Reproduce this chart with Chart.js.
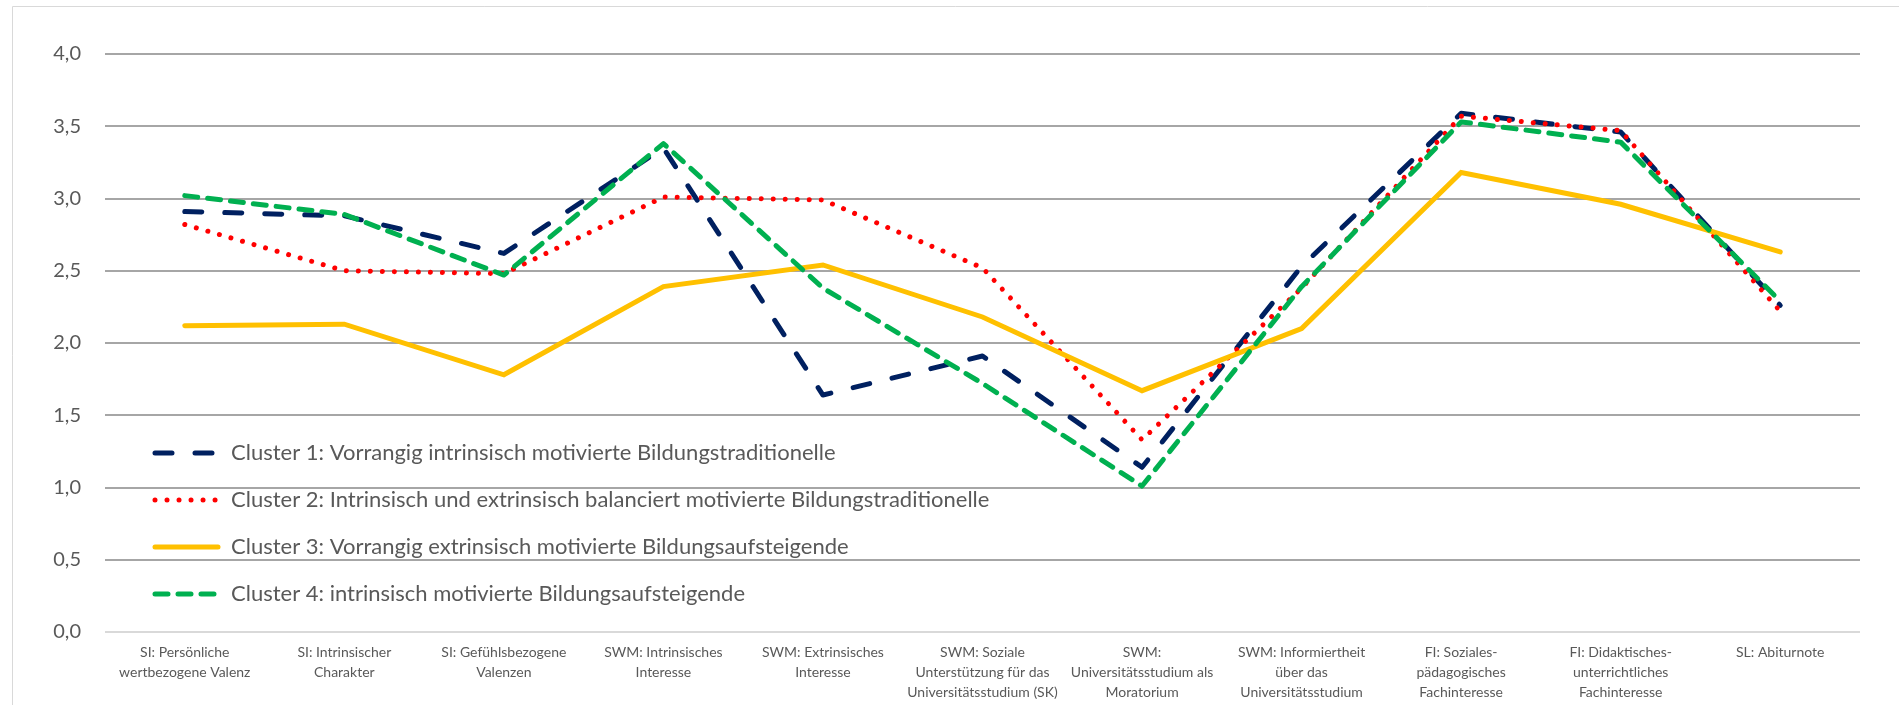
<!DOCTYPE html>
<html lang="de">
<head>
    <meta charset="UTF-8">
    <title>Cluster-Profile</title>
    <script src="https://cdn.jsdelivr.net/npm/chart.js"></script>
    <style>
        html, body { margin: 0; padding: 0; background: #ffffff; }
        #wrap { width: 1899px; height: 705px; }
    </style>
</head>
<body>
    <div id="wrap"><canvas id="myChart" width="1899" height="705"></canvas></div>

    <script>
        // Categories (x axis), already split into lines as in the original
        const categories = [
            ['SI: Persönliche', 'wertbezogene Valenz'],
            ['SI: Intrinsischer', 'Charakter'],
            ['SI: Gefühlsbezogene', 'Valenzen'],
            ['SWM: Intrinsisches', 'Interesse'],
            ['SWM: Extrinsisches', 'Interesse'],
            ['SWM: Soziale', 'Unterstützung für das', 'Universitätsstudium (SK)'],
            ['SWM:', 'Universitätsstudium als', 'Moratorium'],
            ['SWM: Informiertheit', 'über das', 'Universitätsstudium'],
            ['FI: Soziales-', 'pädagogisches', 'Fachinteresse'],
            ['FI: Didaktisches-', 'unterrichtliches', 'Fachinteresse'],
            ['SL: Abiturnote']
        ];

        // Series names
        const seriesNames = [
            'Cluster 1: Vorrangig intrinsisch motivierte Bildungstraditionelle',
            'Cluster 2: Intrinsisch und extrinsisch balanciert motivierte Bildungstraditionelle',
            'Cluster 3: Vorrangig extrinsisch motivierte Bildungsaufsteigende',
            'Cluster 4: intrinsisch motivierte Bildungsaufsteigende'
        ];

        // Values
        const cluster1 = [2.91, 2.88, 2.62, 3.35, 1.64, 1.91, 1.14, 2.53, 3.59, 3.46, 2.26];
        const cluster2 = [2.82, 2.50, 2.48, 3.01, 2.99, 2.52, 1.33, 2.38, 3.57, 3.47, 2.22];
        const cluster3 = [2.12, 2.13, 1.78, 2.39, 2.54, 2.18, 1.67, 2.10, 3.18, 2.96, 2.63];
        const cluster4 = [3.02, 2.89, 2.47, 3.38, 2.38, 1.72, 1.01, 2.39, 3.53, 3.39, 2.29];

        // y axis
        const yMin = 0;
        const yMax = 4;
        const yStep = 0.5;

        const FONT = 'Lato, "Open Sans", sans-serif';
        const TEXT_COLOR = '#595959';

        // draws the light frame around the chart area (like the Excel chart border)
        const framePlugin = {
            id: 'frame',
            beforeDraw(chart) {
                const ctx = chart.ctx;
                ctx.save();
                ctx.strokeStyle = '#d9d9d9';
                ctx.lineWidth = 1;
                ctx.beginPath();
                ctx.moveTo(12.5, chart.height);
                ctx.lineTo(12.5, 6.5);
                ctx.lineTo(chart.width, 6.5);
                ctx.stroke();
                ctx.restore();
            }
        };

        // legend sits inside the plot area, bottom left
        const innerLegend = {
            id: 'innerLegend',
            afterDatasetsDraw(chart) {
                const ctx = chart.ctx;
                const x0 = 155, x1 = 218, tx = 231;
                let y = 453;
                ctx.save();
                chart.data.datasets.forEach(ds => {
                    ctx.strokeStyle = ds.borderColor;
                    ctx.lineWidth = ds.borderWidth;
                    ctx.lineCap = ds.borderCapStyle || 'butt';
                    ctx.setLineDash(ds.borderDash || []);
                    ctx.beginPath();
                    ctx.moveTo(x0, y);
                    ctx.lineTo(x1, y);
                    ctx.stroke();
                    ctx.setLineDash([]);
                    ctx.fillStyle = TEXT_COLOR;
                    ctx.font = '22px ' + FONT;
                    ctx.textBaseline = 'middle';
                    ctx.textAlign = 'left';
                    ctx.fillText(ds.label, tx, y);
                    y += 47;
                });
                ctx.restore();
            }
        };

        const ctx = document.getElementById('myChart').getContext('2d');
        new Chart(ctx, {
            type: 'line',
            data: {
                labels: categories,
                datasets: [
                    {
                        label: seriesNames[0],
                        data: cluster1,
                        borderColor: '#002060',
                        borderWidth: 5,
                        borderDash: [17, 23],
                        borderCapStyle: 'round',
                        borderJoinStyle: 'round',
                        pointRadius: 0,
                        order: 4
                    },
                    {
                        label: seriesNames[1],
                        data: cluster2,
                        borderColor: '#ff0000',
                        borderWidth: 5,
                        borderDash: [0.01, 12],
                        borderCapStyle: 'round',
                        borderJoinStyle: 'round',
                        pointRadius: 0,
                        order: 3
                    },
                    {
                        label: seriesNames[2],
                        data: cluster3,
                        borderColor: '#ffc000',
                        borderWidth: 5,
                        borderCapStyle: 'round',
                        borderJoinStyle: 'miter',
                        pointRadius: 0,
                        order: 2
                    },
                    {
                        label: seriesNames[3],
                        data: cluster4,
                        borderColor: '#00b050',
                        borderWidth: 5,
                        borderDash: [13, 10],
                        borderCapStyle: 'round',
                        borderJoinStyle: 'round',
                        pointRadius: 0,
                        order: 1
                    }
                ]
            },
            options: {
                responsive: false,
                animation: false,
                layout: {
                    padding: { left: 0, right: 39, top: 54, bottom: 0 }
                },
                scales: {
                    x: {
                        offset: true,
                        grid: { display: false, drawTicks: false },
                        border: { display: false },
                        ticks: {
                            color: TEXT_COLOR,
                            font: { family: FONT, size: 14, lineHeight: 1.4 },
                            padding: 11,
                            maxRotation: 0,
                            minRotation: 0,
                            autoSkip: false
                        },
                        afterFit(scale) { scale.height = 73; }
                    },
                    y: {
                        min: yMin,
                        max: yMax,
                        grid: {
                            color: c => c.tick && c.tick.value === 0 ? '#d9d9d9' : '#a6a6a6',
                            lineWidth: 2,
                            drawTicks: false
                        },
                        border: { display: false },
                        ticks: {
                            stepSize: yStep,
                            color: TEXT_COLOR,
                            font: { family: FONT, size: 20 },
                            padding: 24,
                            callback: v => v.toFixed(1).replace('.', ',')
                        },
                        afterFit(scale) { scale.width = 105; }
                    }
                },
                plugins: {
                    legend: { display: false },
                    tooltip: { enabled: false }
                }
            },
            plugins: [framePlugin, innerLegend]
        });
    </script>
</body>
</html>
